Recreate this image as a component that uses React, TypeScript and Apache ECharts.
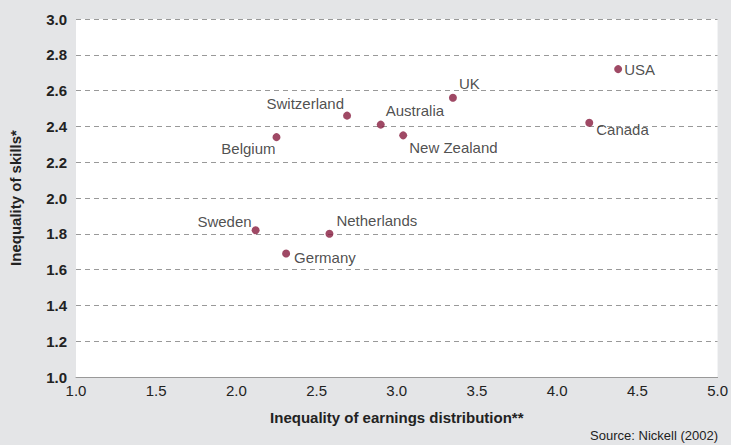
import React, { useEffect, useRef } from "react";
import * as echarts from "echarts";

const countries = ["USA", "Canada", "UK", "Australia", "New Zealand", "Switzerland", "Belgium", "Sweden", "Netherlands", "Germany"];
const earningsInequality = [4.38, 4.2, 3.35, 2.9, 3.04, 2.69, 2.25, 2.12, 2.58, 2.31];
const skillsInequality = [2.72, 2.42, 2.56, 2.41, 2.35, 2.46, 2.34, 1.82, 1.8, 1.69];

const labelPlacement: Record<string, { position: any; offset: number[] }> = {
  USA: { position: "right", offset: [-3, 0] },
  Canada: { position: "right", offset: [-2, 7] },
  UK: { position: "right", offset: [-3, -14] },
  Australia: { position: "right", offset: [-4, -14] },
  "New Zealand": { position: "right", offset: [-3, 12] },
  Switzerland: { position: "left", offset: [6, -12] },
  Belgium: { position: "left", offset: [8, 11] },
  Sweden: { position: "left", offset: [5, -9] },
  Netherlands: { position: "right", offset: [-2, -13] },
  Germany: { position: "right", offset: [-1, 4] },
};

const FONT = "'Liberation Sans Narrow', 'Arial Narrow', 'Liberation Sans', sans-serif";

export default function App() {
  const ref = useRef<HTMLDivElement>(null);
  useEffect(() => {
    if (!ref.current) return;
    const chart = echarts.init(ref.current, undefined, { renderer: "svg" });
    const data = countries.map((c, i) => ({
      name: c,
      value: [earningsInequality[i], skillsInequality[i]],
      label: {
        show: true,
        formatter: c,
        position: labelPlacement[c].position,
        offset: labelPlacement[c].offset,
        color: "#222",
        fontSize: 15,
        fontFamily: FONT,
      },
    }));
    chart.setOption({
      animation: false,
      backgroundColor: "#e4e5e7",
      textStyle: { fontFamily: FONT },
      grid: {
        left: 76,
        right: 13,
        top: 19,
        bottom: 68,
        show: true,
        backgroundColor: "#ffffff",
        borderWidth: 0,
      },
      xAxis: {
        type: "value",
        min: 1,
        max: 5,
        interval: 0.5,
        name: "Inequality of earnings distribution**",
        nameLocation: "middle",
        nameGap: 33,
        nameTextStyle: { fontWeight: "bold", fontSize: 15, color: "#222", fontFamily: FONT },
        axisLine: { show: true, lineStyle: { color: "#999", width: 1 } },
        axisTick: { show: false },
        splitLine: { show: false },
        axisLabel: {
          formatter: (v: number) => v.toFixed(1),
          fontSize: 15,
          color: "#222",
          margin: 6,
          fontFamily: FONT,
        },
      },
      yAxis: {
        type: "value",
        min: 1,
        max: 3,
        interval: 0.2,
        name: "Inequality of skills*",
        nameLocation: "middle",
        nameGap: 53,
        nameTextStyle: { fontWeight: "bold", fontSize: 15, color: "#222", fontFamily: FONT },
        axisLine: { show: false },
        axisTick: { show: false },
        splitLine: { show: true, lineStyle: { color: "#999", type: [5, 4], width: 1 } },
        axisLabel: {
          formatter: (v: number) => v.toFixed(1),
          fontSize: 15,
          fontWeight: "bold",
          color: "#222",
          margin: 9,
          fontFamily: FONT,
        },
      },
      series: [
        {
          type: "scatter",
          symbol: "circle",
          symbolSize: 8,
          itemStyle: { color: "#871c3e" },
          data,
        },
      ],
      graphic: [
        {
          type: "text",
          right: 13,
          top: 429,
          style: {
            text: "Source: Nickell (2002)",
            fontSize: 13,
            fill: "#222",
            fontFamily: FONT,
          },
        },
      ],
    });
    return () => chart.dispose();
  }, []);
  return (
    <div
      ref={ref}
      style={{ position: "fixed", left: 0, top: 0, width: 731, height: 445 }}
    />
  );
}
